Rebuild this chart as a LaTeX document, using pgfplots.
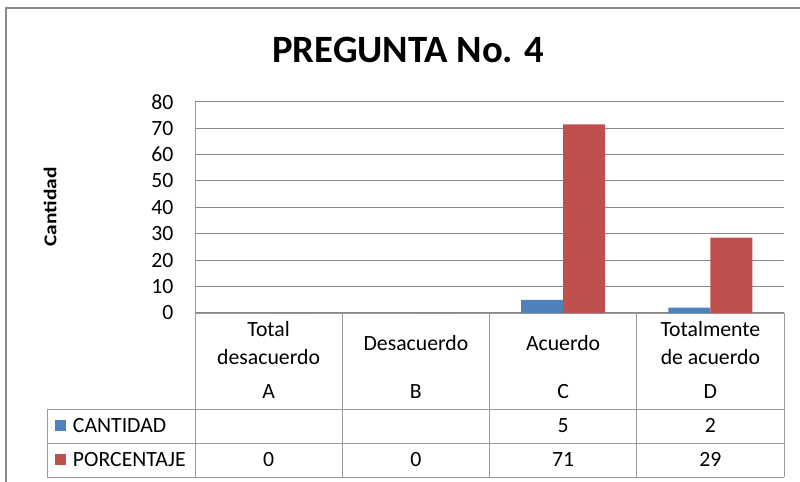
\documentclass[border=0pt]{standalone}
\usepackage{fontspec}
\setmainfont{Carlito}
\usepackage{pgfplots}
\pgfplotsset{compat=1.18}
\definecolor{serA}{HTML}{4F81BD}
\definecolor{serB}{HTML}{C0504D}
\definecolor{gridc}{HTML}{878787}
\definecolor{tabc}{HTML}{9A9A9A}
\definecolor{framec}{HTML}{898989}
\begin{document}
\begin{tikzpicture}
\path[use as bounding box] (0pt,0pt) rectangle (600pt,-361.5pt);
\begin{axis}[
 at={(146.25pt,-234.75pt)}, anchor=south west,
 scale only axis, width=441.75pt, height=158.5pt,
 xmin=-0.5, xmax=3.5, ymin=0, ymax=80,
 ytick={0,10,...,80}, xtick=\empty,
 axis x line*=bottom, axis y line*=left,
 axis line style={draw=tabc, line width=0.75pt},
 ymajorgrids, grid style={draw=gridc, line width=0.8pt},
 ytick style={draw=none},
 ybar=0pt, bar width=31.5pt,
 /pgf/number format/assume math mode=true,
 yticklabel style={font=\fontsize{16.3}{19}\selectfont, inner sep=0pt, xshift=-16pt},
 clip=false,
]
\addplot[fill=serA, draw=none] coordinates {(2,5) (3,2)};
\addplot[fill=serB, draw=none] coordinates {(0,0) (1,0) (2,71.43) (3,28.57)};
\end{axis}
\begin{scope}[x=0.75pt, y=-0.75pt]
\tikzset{lbl/.style={anchor=base, inner sep=0pt, font=\fontsize{16.3}{19}\selectfont}}
\draw[framec, line width=1.5pt] (6,495) -- (6,7.5) -- (810,7.5);
\draw[tabc, line width=0.75pt] (47,409) -- (784,409) (47,443.3) -- (784,443.3) (47,477) -- (784,477) (47,409) -- (47,477);
\foreach \x in {195,342.25,489.5,636.75,784} \draw[tabc, line width=0.75pt] (\x,313) -- (\x,477);
\node[anchor=base, inner sep=0pt, font=\bfseries\fontsize{29}{34}\selectfont] at (408.4,62.3) {PREGUNTA No. 4};
\node[rotate=90, xscale=1.19, inner sep=0pt, font=\bfseries\fontsize{13.5}{16}\selectfont] at (50,207) {Cantidad};
% category row
\node[lbl] at (268.6,336.7) {Total};
\node[lbl] at (268.6,364) {desacuerdo};
\node[lbl] at (268.6,398.3) {A};
\node[lbl] at (415.9,350) {Desacuerdo};
\node[lbl] at (415.9,398.3) {B};
\node[lbl] at (563.1,350) {Acuerdo};
\node[lbl] at (563.1,398.3) {C};
\node[lbl] at (710.4,336.7) {Totalmente};
\node[lbl] at (710.4,364) {de acuerdo};
\node[lbl] at (710.4,398.3) {D};
% legend column
\fill[serA] (55,420) rectangle (66,431);
\fill[serB] (55,454) rectangle (66,465);
\node[lbl, anchor=base west] at (72.7,432.5) {CANTIDAD};
\node[lbl, anchor=base west] at (72.7,466.7) {PORCENTAJE};
% values
\node[lbl] at (563.1,432.8) {5};
\node[lbl] at (710.4,432.8) {2};
\node[lbl] at (268.6,466.8) {0};
\node[lbl] at (415.9,466.8) {0};
\node[lbl] at (563.1,466.8) {71};
\node[lbl] at (710.4,466.8) {29};
\end{scope}
\end{tikzpicture}
\end{document}
